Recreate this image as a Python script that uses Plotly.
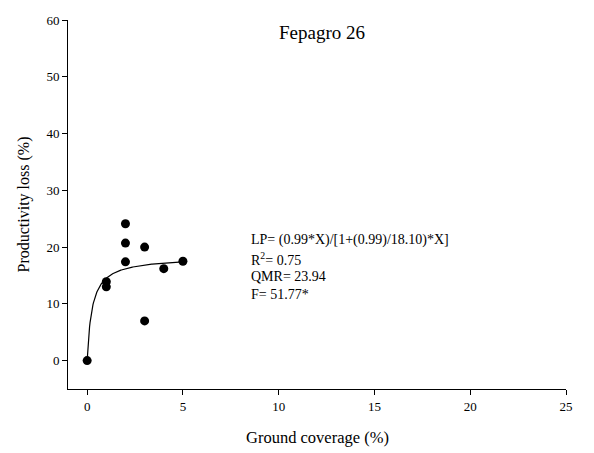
import numpy as np
import plotly.graph_objects as go

# Observed data (ground coverage %, productivity loss %)
coverage = [0, 1, 1, 2, 2, 2, 3, 3, 4, 5]
loss = [0, 13.9, 13.0, 24.1, 20.7, 17.4, 20.0, 7.0, 16.2, 17.5]

# Rectangular hyperbola model parameters (as drawn)
CURVE_I = 70.0
CURVE_A = 18.3
curve_x = np.linspace(0, 5, 200)
curve_y = CURVE_I * curve_x / (1 + CURVE_I / CURVE_A * curve_x)

x_ticks = [0, 5, 10, 15, 20, 25]
y_ticks = [0, 10, 20, 30, 40, 50, 60]

title_text = "Fepagro 26"
eq_lines = ["LP= (0.99*X)/[1+(0.99)/18.10)*X]", "R<sup>2</sup>= 0.75", "QMR= 23.94", "F= 51.77*"]
eq_y = [21.3, 17.95, 14.75, 11.6]

FONT = "Liberation Serif"

fig = go.Figure()
fig.add_trace(go.Scatter(x=curve_x, y=curve_y, mode="lines",
                         line=dict(color="black", width=1.2), hoverinfo="skip"))
fig.add_trace(go.Scatter(x=coverage, y=loss, mode="markers",
                         marker=dict(color="black", size=9)))

annotations = [
    dict(text=title_text, x=0.51, y=0.965, xref="paper", yref="paper",
         xanchor="center", yanchor="middle", showarrow=False,
         font=dict(size=19, color="black", family=FONT)),
    dict(text="Ground coverage (%)", x=0.5, y=(389 - 437) / 369, xref="paper", yref="paper",
         xanchor="center", yanchor="middle", showarrow=False,
         font=dict(size=16.5, color="black", family=FONT)),
    dict(text="Productivity loss (%)", x=(23 - 68) / 498, y=0.5,
         xref="paper", yref="paper", textangle=-90,
         xanchor="center", yanchor="middle", showarrow=False,
         font=dict(size=16, color="black", family=FONT)),
]
for txt, yy in zip(eq_lines, eq_y):
    annotations.append(dict(text=txt, x=8.44, y=yy, xref="x", yref="y",
                            xanchor="left", yanchor="middle", showarrow=False,
                            font=dict(size=14, color="black", family=FONT)))

fig.update_layout(
    width=594, height=453,
    margin=dict(l=68, r=28, t=20, b=64),
    paper_bgcolor="white", plot_bgcolor="white",
    showlegend=False,
    font=dict(family=FONT, color="black", size=13),
    annotations=annotations,
)
fig.update_xaxes(range=[-1, 25], tickmode="array", tickvals=x_ticks,
                 ticktext=[str(v) for v in x_ticks],
                 showline=True, linecolor="black", linewidth=1,
                 ticks="outside", ticklen=5, tickcolor="black",
                 showgrid=False, zeroline=False,
                 tickfont_family=FONT, tickfont_size=13, tickfont_color="black")
fig.update_yaxes(range=[-5, 60], tickmode="array", tickvals=y_ticks,
                 ticktext=[str(v) for v in y_ticks],
                 showline=True, linecolor="black", linewidth=1,
                 ticks="outside", ticklen=5, tickcolor="black",
                 showgrid=False, zeroline=False,
                 tickfont_family=FONT, tickfont_size=13, tickfont_color="black")

fig.write_html("out.html")
